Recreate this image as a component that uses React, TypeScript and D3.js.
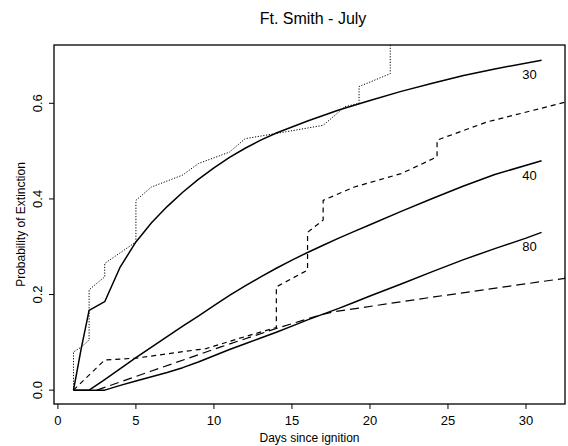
import React from "react";
import * as d3 from "d3";

const title = "Ft. Smith - July";
const xLabel = "Days since ignition";
const yLabel = "Probability of Extinction";
const xTicks = [0, 5, 10, 15, 20, 25, 30];
const yTicks = [0.0, 0.2, 0.4, 0.6];

// fitted curves
const fit30Days = [1, 1.5, 2, 3, 4, 5, 6, 7, 8, 9, 10, 11, 12, 13, 14, 16, 18, 20, 22, 24, 26, 28, 31];
const fit30Vals = [0, 0.088, 0.167, 0.185, 0.258, 0.31, 0.35, 0.384, 0.414, 0.441, 0.465, 0.487, 0.506, 0.523, 0.538, 0.563, 0.586, 0.606, 0.625, 0.642, 0.658, 0.672, 0.69];
const fit40Days = [1, 2, 3, 4, 5, 6, 7, 8, 9, 10, 11, 12, 13, 14, 15, 16, 17, 18, 19, 20, 22, 24, 26, 28, 31];
const fit40Vals = [0, 0, 0.022, 0.045, 0.068, 0.09, 0.112, 0.134, 0.155, 0.177, 0.198, 0.218, 0.237, 0.255, 0.272, 0.288, 0.303, 0.318, 0.332, 0.346, 0.374, 0.401, 0.427, 0.451, 0.48];
const fit80Days = [1, 3, 4, 5, 6, 7, 8, 9, 10, 11, 12, 13, 14, 15, 16, 17, 18, 19, 20, 22, 24, 26, 28, 30, 31];
const fit80Vals = [0, 0, 0.01, 0.019, 0.028, 0.037, 0.047, 0.059, 0.072, 0.085, 0.097, 0.109, 0.121, 0.134, 0.147, 0.159, 0.171, 0.184, 0.197, 0.222, 0.248, 0.273, 0.296, 0.318, 0.33];
const fitLabels = ["30", "40", "80"];

// empirical curves
const emp30Days = [1, 1, 1.5, 2, 2, 3, 3, 5, 5, 6, 8, 9, 11, 12, 14, 17, 18.4, 19.3, 19.3, 21.3, 21.3];
const emp30Vals = [0, 0.08, 0.09, 0.105, 0.21, 0.237, 0.265, 0.31, 0.397, 0.425, 0.45, 0.474, 0.498, 0.526, 0.537, 0.554, 0.593, 0.6, 0.635, 0.662, 0.76];
const emp40Days = [1, 3, 5, 9.5, 12, 14, 14, 16, 16, 17, 17, 19, 22, 24.3, 24.3, 27.5, 32.6];
const emp40Vals = [0, 0.063, 0.067, 0.087, 0.112, 0.131, 0.216, 0.251, 0.33, 0.356, 0.397, 0.425, 0.453, 0.488, 0.523, 0.561, 0.603];
const emp80Days = [2.5, 6, 10.4, 14, 16.8, 17.7, 24.1, 32.5, 32.5];
const emp80Vals = [0, 0.04, 0.09, 0.129, 0.157, 0.164, 0.195, 0.234, 0.245];

const W = 568, H = 446;
const L = 54, R = 565, T = 45, B = 404;

export default function App() {
  const x = d3.scaleLinear().domain([-0.25, 32.5]).range([L, R]);
  const y = d3.scaleLinear().domain([-0.029, 0.722]).range([B, T]);
  const line = d3.line<[number, number]>().x(d => x(d[0])).y(d => y(d[1]));
  const pts = (ds: number[], vs: number[]) => ds.map((d, i) => [d, vs[i]] as [number, number]);
  const font = "'Liberation Sans', Arial, Helvetica, sans-serif";

  const fits = [
    { d: fit30Days, v: fit30Vals },
    { d: fit40Days, v: fit40Vals },
    { d: fit80Days, v: fit80Vals },
  ];
  const emps = [
    { d: emp30Days, v: emp30Vals, dash: "1.2,1.6", w: 1 },
    { d: emp40Days, v: emp40Vals, dash: "5,4", w: 1.2 },
    { d: emp80Days, v: emp80Vals, dash: "9,5", w: 1.2 },
  ];

  return (
    <svg width={W} height={H} style={{ position: "absolute", left: 0, top: 0, background: "#fff" }}>
      <defs>
        <clipPath id="plotclip">
          <rect x={L} y={T} width={R - L} height={B - T} />
        </clipPath>
      </defs>
      <text x={313} y={24} textAnchor="middle" fontFamily={font} fontSize={16} fill="#000">{title}</text>
      <g clipPath="url(#plotclip)">
        {fits.map((f, i) => (
          <path key={"f" + i} d={line(pts(f.d, f.v)) || ""} fill="none" stroke="#000" strokeWidth={1.5} strokeLinejoin="round" />
        ))}
        {emps.map((e, i) => (
          <path key={"e" + i} d={line(pts(e.d, e.v)) || ""} fill="none" stroke="#000" strokeWidth={e.w} strokeDasharray={e.dash} />
        ))}
      </g>
      {fits.map((f, i) => (
        <text key={"l" + i} x={x(f.d[f.d.length - 1]) - 12} y={y(f.v[f.v.length - 1]) + 19}
          textAnchor="middle" fontFamily={font} fontSize={13} fill="#000">{fitLabels[i]}</text>
      ))}
      <rect x={L} y={T} width={R - L} height={B - T} fill="none" stroke="#000" strokeWidth={1.3} />
      {xTicks.map(t => (
        <g key={"xt" + t}>
          <line x1={x(t)} x2={x(t)} y1={B} y2={B + 5} stroke="#000" strokeWidth={1} />
          <text x={x(t)} y={B + 21} textAnchor="middle" fontFamily={font} fontSize={13} fill="#000">{t}</text>
        </g>
      ))}
      {yTicks.map(t => (
        <g key={"yt" + t}>
          <line x1={L} x2={L - 5} y1={y(t)} y2={y(t)} stroke="#000" strokeWidth={1} />
          <text transform={`translate(${L - 12},${y(t)}) rotate(-90)`} textAnchor="middle" fontFamily={font} fontSize={13} fill="#000">{t.toFixed(1)}</text>
        </g>
      ))}
      <text x={(L + R) / 2} y={442} textAnchor="middle" fontFamily={font} fontSize={12} fill="#000">{xLabel}</text>
      <text transform={`translate(25,${(T + B) / 2}) rotate(-90)`} textAnchor="middle" fontFamily={font} fontSize={12} fill="#000">{yLabel}</text>
    </svg>
  );
}
